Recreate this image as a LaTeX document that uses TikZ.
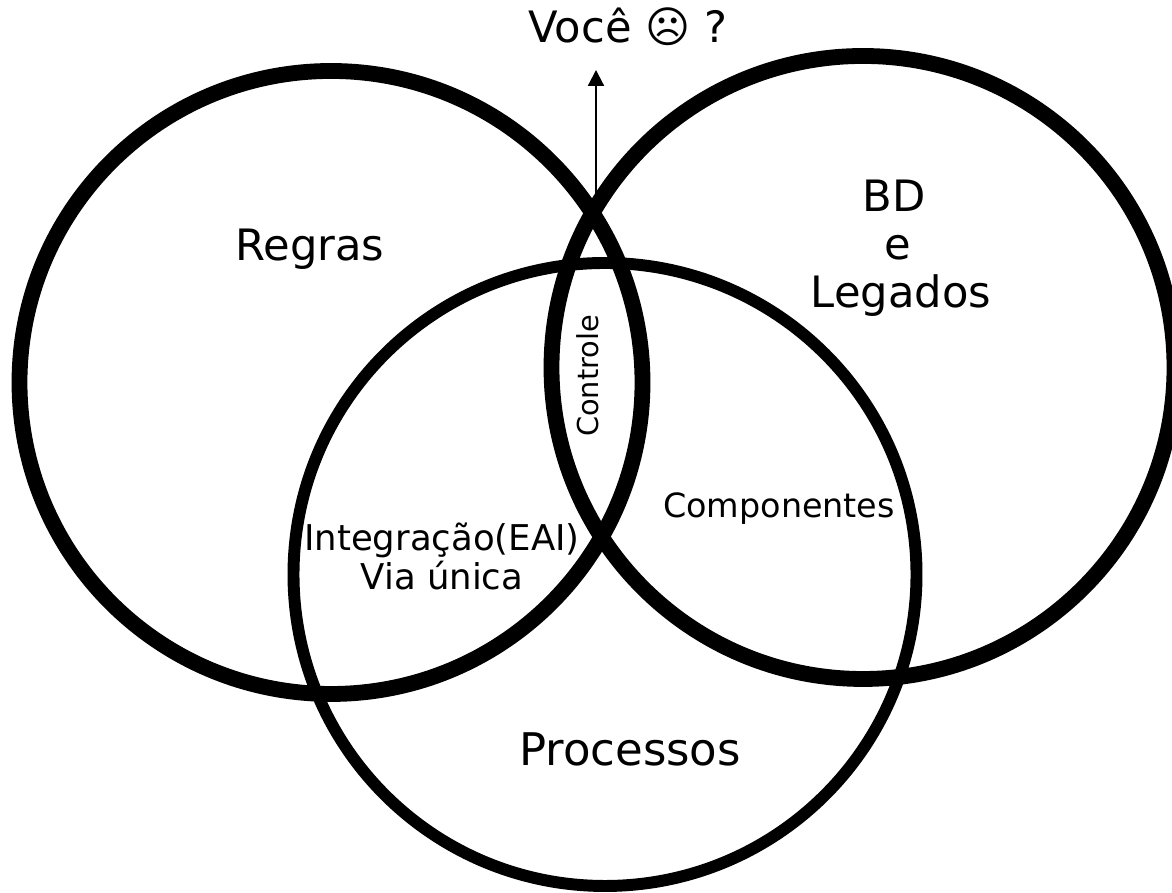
\documentclass[tikz,border=0pt]{standalone}
\usepackage{fontspec}
\setmainfont{DejaVu Sans}
\usetikzlibrary{arrows.meta}
\tikzset{
  big/.style={font=\fontsize{12.3}{13.7}\selectfont,align=center,inner sep=0pt},
  small/.style={font=\fontsize{10.1}{11.1}\selectfont,align=center,inner sep=0pt},
}
\begin{document}
\begin{tikzpicture}
    \useasboundingbox (0,0) rectangle (11.72,8.93);
    \draw[line width=4.5pt] (3.31,5.105) circle (3.115);
    \draw[line width=4.5pt] (8.63,5.255) circle (3.115);
    \draw[line width=3.4pt] (6.05,3.185) circle (3.115);
    \node[big] (voce) at (6.28,8.66) {Você ☹ ?};
    \node[big] (regras) at (3.10,6.44) {Regras};
    \node[big] (bd) at (9.01,6.45) {BD\kern4pt\\e\kern2pt\\Legados};
    \node[big,font=\fontsize{12.8}{14}\selectfont] (processos) at (6.30,1.44) {Processos};
    \node[small,font=\fontsize{8.2}{10}\selectfont,rotate=90] (controle) at (5.88,5.17) {Controle};
    \node[small,font=\fontsize{9.5}{11}\selectfont] (componentes) at (7.79,3.84) {Componentes};
    \node[small] (integracao) at (4.42,3.37) {Integração(EAI)\\Via única};
    \coordinate (cruzamento) at (5.96,6.98);
    \coordinate (topo) at (5.96,8.23);
    \draw[-{Triangle[length=4.5pt,width=4.5pt]},line width=0.6pt] (cruzamento) -- (topo);
\end{tikzpicture}
\end{document}
